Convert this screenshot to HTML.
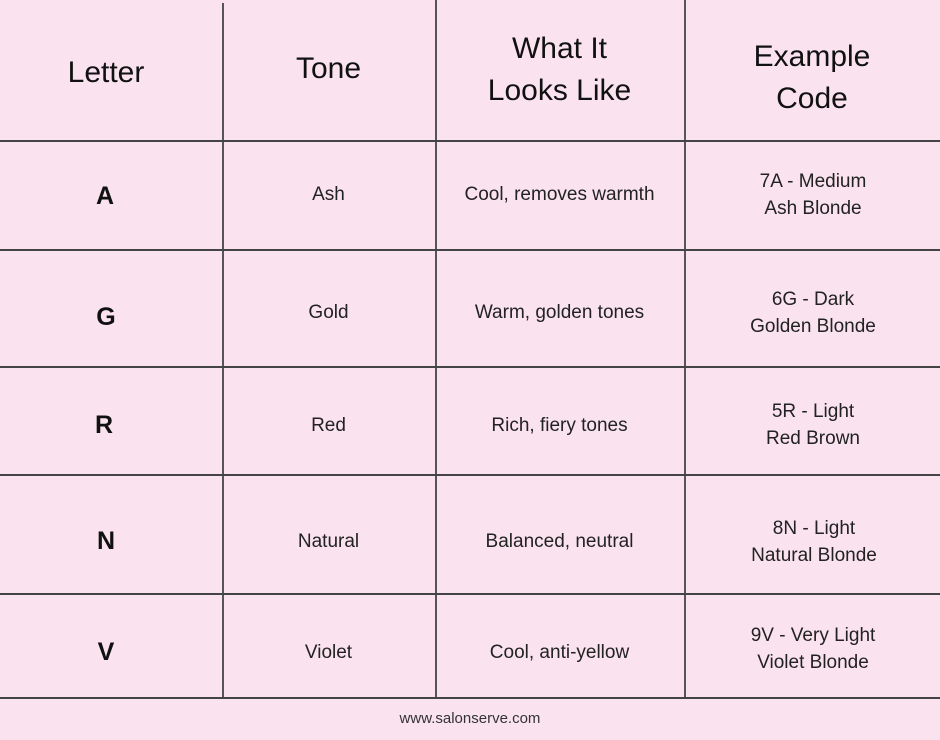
<!DOCTYPE html>
<html><head><meta charset="utf-8"><style>
body{margin:0;width:940px;height:740px;background:#fae3ef;position:relative;overflow:hidden;font-family:"Liberation Sans",sans-serif;color:#111}
.v{position:absolute;width:1.5px;background:#555}
.h{position:absolute;left:0;width:940px;height:1.5px;background:#444}
.c{position:absolute;display:flex;align-items:center;justify-content:center;text-align:center}
.hd{font-size:30px;line-height:42px}
.b{font-size:19px;line-height:27px;color:#222}
.l{font-size:25px;font-weight:bold}
</style></head><body>
<div class="v" style="left:222px;top:3px;height:695px"></div>
<div class="v" style="left:435px;top:0;height:698px"></div>
<div class="v" style="left:684px;top:0;height:698px"></div>
<div class="h" style="top:140px"></div>
<div class="h" style="top:249px"></div>
<div class="h" style="top:366px"></div>
<div class="h" style="top:474px"></div>
<div class="h" style="top:593px"></div>
<div class="h" style="top:697px"></div>

<div class="c hd" style="left:0;width:212px;top:50px;height:46px">Letter</div>
<div class="c hd" style="left:222px;width:213px;top:46px;height:46px">Tone</div>
<div class="c hd" style="left:435px;width:249px;top:26px;height:88px">What It<br>Looks Like</div>
<div class="c hd" style="left:684px;width:256px;top:34px;height:88px">Example<br>Code</div>

<div class="c l" style="left:0;width:210px;top:140px;height:112px">A</div>
<div class="c b" style="left:222px;width:213px;top:140px;height:109px">Ash</div>
<div class="c b" style="left:435px;width:249px;top:140px;height:109px">Cool, removes warmth</div>
<div class="c b" style="left:684px;width:258px;top:140px;height:109px">7A - Medium<br>Ash Blonde</div>

<div class="c l" style="left:0;width:212px;top:259px;height:117px">G</div>
<div class="c b" style="left:222px;width:213px;top:254px;height:117px">Gold</div>
<div class="c b" style="left:435px;width:249px;top:254px;height:117px">Warm, golden tones</div>
<div class="c b" style="left:684px;width:258px;top:254px;height:117px">6G - Dark<br>Golden Blonde</div>

<div class="c l" style="left:0;width:208px;top:371px;height:108px">R</div>
<div class="c b" style="left:222px;width:213px;top:371px;height:108px">Red</div>
<div class="c b" style="left:435px;width:249px;top:371px;height:108px">Rich, fiery tones</div>
<div class="c b" style="left:684px;width:258px;top:371px;height:108px">5R - Light<br>Red Brown</div>

<div class="c l" style="left:0;width:212px;top:482px;height:119px">N</div>
<div class="c b" style="left:222px;width:213px;top:482px;height:119px">Natural</div>
<div class="c b" style="left:435px;width:249px;top:482px;height:119px">Balanced, neutral</div>
<div class="c b" style="left:684px;width:260px;top:482px;height:119px">8N - Light<br>Natural Blonde</div>

<div class="c l" style="left:0;width:212px;top:593px;height:118px">V</div>
<div class="c b" style="left:222px;width:213px;top:593px;height:118px">Violet</div>
<div class="c b" style="left:435px;width:249px;top:593px;height:118px">Cool, anti-yellow</div>
<div class="c b" style="left:684px;width:258px;top:593px;height:112px">9V - Very Light<br>Violet Blonde</div>

<div class="c" style="left:0;width:940px;top:706px;height:24px;font-size:15px;color:#333">www.salonserve.com</div>
</body></html>
